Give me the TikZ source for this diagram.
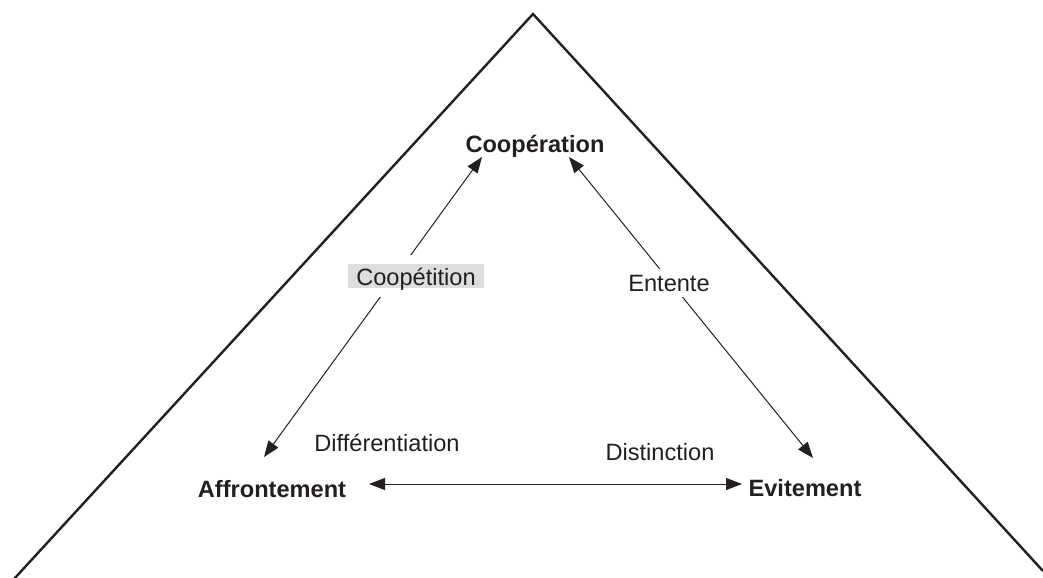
\documentclass[tikz,border=0pt]{standalone}
\usepackage{fontspec}
\setmainfont{Liberation Sans}
\usetikzlibrary{arrows.meta,calc}
\definecolor{inkblack}{RGB}{35,31,32}
\definecolor{cptgray}{RGB}{221,221,221}
\tikzset{
  lbl/.style={inner sep=0pt, anchor=base, text=inkblack, font=\fontsize{17.7}{20}\selectfont},
  pole/.style={lbl, font=\fontsize{17.7}{20}\selectfont\bfseries},
  link/.style={draw=inkblack, line width=0.75pt, {Triangle[length=12pt,width=9pt]}-{Triangle[length=12pt,width=9pt]}},
}
\begin{document}
\begin{tikzpicture}[x=0.75pt,y=0.75pt,yscale=-1,xscale=1]
\useasboundingbox (0,0) rectangle (1043,578);
\clip (0,0) rectangle (1043,578);

%Shape: big triangle
\coordinate (apex) at (533,14);
\coordinate (lft) at (14,579);
\coordinate (rgt) at (1043,571);
\draw [draw=inkblack, line width=1.8pt, line join=miter] (lft) -- (apex) -- (rgt);

% Text Node
\node [pole] (coop) at (535,152) {Coopération};
% Text Node
\node [pole] (affr) at (272,497) {Affrontement};
% Text Node
\node [pole] (evit) at (805,496) {Evitement};

%Straight Lines
\draw [link] ($(coop.base)+(-53,5)$) -- ($(affr.base)+(-8,-40)$);
\draw [link] ($(coop.base)+(34,5)$) -- ($(evit.base)+(8,-38)$);
\draw [link] ($(affr.base)+(97,-13)$) -- ($(evit.base)+(-63,-12)$);

% Text Node
\node [lbl, fill=cptgray, inner xsep=6pt, text height=15.75pt, text depth=2.25pt,
  preaction={draw=white, line width=14pt}] (cpt) at (416,285) {Coopétition};
% Text Node
\node [lbl, fill=white, inner sep=4.5pt] (ent) at (669,291) {Entente};
% Text Node
\node [lbl] (diff) at (387,451) {Différentiation};
% Text Node
\node [lbl] (dist) at (660,460) {Distinction};
\end{tikzpicture}
\end{document}
